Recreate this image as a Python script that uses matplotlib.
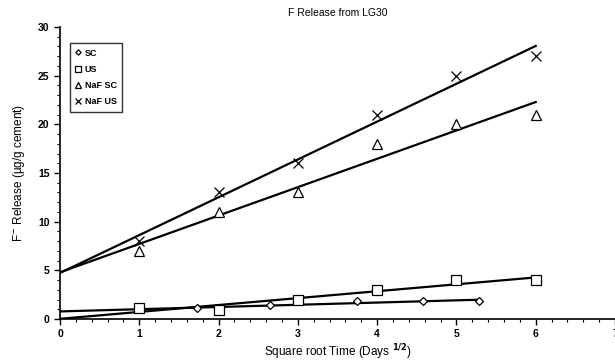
import numpy as np
import matplotlib
matplotlib.use("Agg")
import matplotlib.pyplot as plt
from matplotlib.ticker import MultipleLocator

plt.rcParams['font.family'] = ['Liberation Sans Narrow', 'Liberation Sans', 'DejaVu Sans']

# data (x = sqrt of days)
sc_x = [1.0, 1.73, 2.65, 3.74, 4.58, 5.29]
sc_y = [1.0, 1.1, 1.4, 1.8, 1.8, 1.9]
us_x = [1, 2, 3, 4, 5, 6]
us_y = [1.1, 0.9, 2.0, 3.0, 4.0, 4.0]
nafsc_x = [1, 2, 3, 4, 5, 6]
nafsc_y = [7, 11, 13, 18, 20, 21]
nafus_x = [1, 2, 3, 4, 5, 6]
nafus_y = [8, 13, 16, 21, 25, 27]

series = [
    ("SC", sc_x, sc_y, "D", 4.5),
    ("US", us_x, us_y, "s", 6.5),
    ("NaF SC", nafsc_x, nafsc_y, "^", 7),
    ("NaF US", nafus_x, nafus_y, "x", 7),
]

fig = plt.figure(figsize=(6.15, 3.64), dpi=100)
ax = fig.add_axes([0.0976, 0.1236, 0.9024, 0.8024])

handles = []
for name, x, y, mk, ms in series:
    x = np.asarray(x, float)
    y = np.asarray(y, float)
    # linear trend line, from 0 to last point
    k, b = np.polyfit(x, y, 1)
    xl = np.array([0, x.max()])
    ax.plot(xl, k * xl + b, color="black", lw=1.6, zorder=2)
    h, = ax.plot(x, y, linestyle="none", marker=mk, ms=ms, mfc="white",
                 mec="black", mew=0.9, zorder=3, label=name)
    handles.append(h)

ax.set_xlim(0, 7)
ax.set_ylim(0, 30)
ax.xaxis.set_major_locator(MultipleLocator(1))
ax.xaxis.set_minor_locator(MultipleLocator(0.2))
ax.yaxis.set_major_locator(MultipleLocator(5))
ax.yaxis.set_minor_locator(MultipleLocator(1))
ax.tick_params(which="major", length=4, width=1, labelsize=7.5, direction="out")
ax.tick_params(which="minor", length=2, width=0.8, direction="out")
for lab in ax.get_xticklabels() + ax.get_yticklabels():
    lab.set_fontweight("bold")
for s in ["top", "right"]:
    ax.spines[s].set_visible(False)
ax.spines["left"].set_linewidth(1.2)
ax.spines["bottom"].set_linewidth(1.2)

ax.set_title("F Release from LG30", fontsize=7.5, pad=8)
ax.set_xlabel("Square root Time (Days $^{\\mathbf{1/2}}$)", fontsize=8.5, labelpad=2)
ax.set_ylabel("F$^{-}$ Release (\u00b5g/g cement)", fontsize=8.5, labelpad=8)

leg = ax.legend(handles=handles, loc="upper left", bbox_to_anchor=(0.01, 0.96),
                frameon=True, fancybox=False, edgecolor="black",
                handlelength=0.6, handletextpad=0.4, markerscale=0.6,
                borderpad=0.6, labelspacing=0.8, prop={"weight": "bold", "size": 6.5})
leg.get_frame().set_linewidth(1.0)

fig.savefig("out.png", dpi=100)
